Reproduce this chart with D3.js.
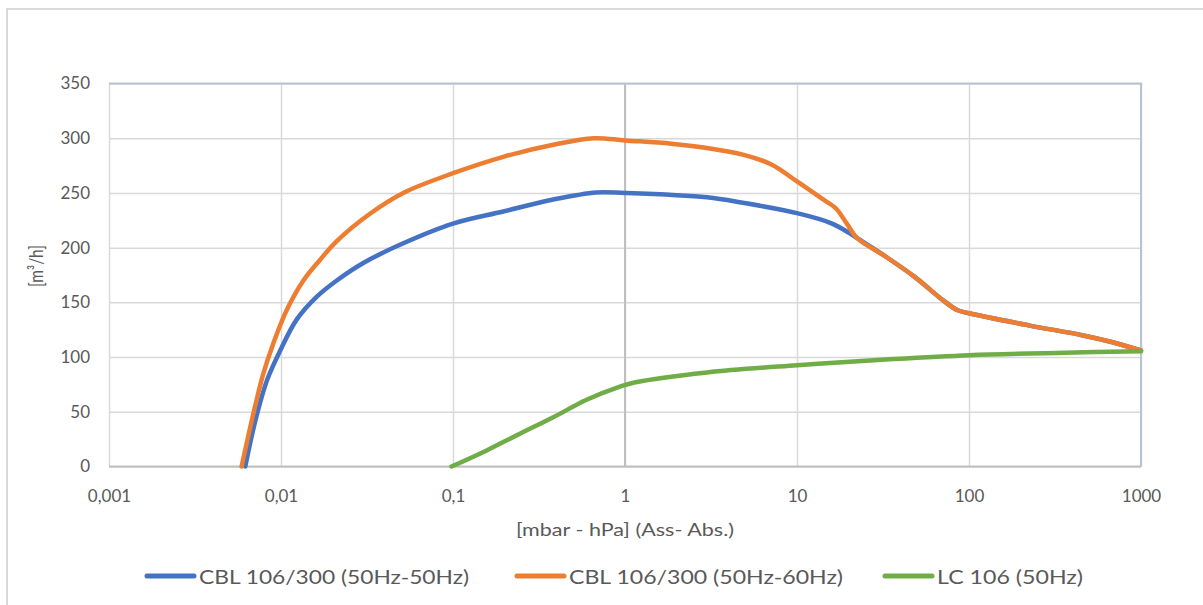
<!doctype html>
<html>
<head>
<meta charset="utf-8">
<title>curve</title>
<script src="https://d3js.org/d3.v7.min.js"></script>
<style>
  body { margin: 0; background: #fff; }
  text { font-family: Lato, "Open Sans", sans-serif; fill: #595959; }
</style>
</head>
<body>
<script>

// tick values and labels
var xTicks = [0.001, 0.01, 0.1, 1, 10, 100, 1000];
var xTickLabels = ['0,001', '0,01', '0,1', '1', '10', '100', '1000'];
var yTicks = [0, 50, 100, 150, 200, 250, 300, 350];

var seriesNames = ['CBL 106/300 (50Hz-50Hz)', 'CBL 106/300 (50Hz-60Hz)', 'LC 106 (50Hz)'];
var seriesColors = ['#4472c4', '#ed7d31', '#70ad47'];

// CBL 106/300 50Hz-50Hz
var bluePressure = [0.0062, 0.0071, 0.0083, 0.0099, 0.0123, 0.0161, 0.0211, 0.0301, 0.0514, 0.1, 0.196, 0.383, 0.68, 1,
                    3.0, 4.84, 10, 16, 20.3, 22.4, 32.8, 48.1, 70.5, 85.3, 100, 222, 454, 666, 1000];
var blueFlow = [0, 42, 79, 106, 134, 155, 170, 186, 204, 222, 233, 244, 250.5, 250,
                246, 241, 231.5, 222, 213, 208.6, 191.8, 173.5, 152, 143, 140, 129, 120, 114, 106];

// CBL 106/300 50Hz-60Hz
var orangePressure = [0.0059, 0.0069, 0.0079, 0.009, 0.0108, 0.0135, 0.0169, 0.0211, 0.0329, 0.0514, 0.1, 0.196, 0.383, 0.66, 1,
                      1.86, 3.0, 4.84, 7.1, 10, 13.9, 16.8, 19.4, 22.4, 32.8, 48.1, 70.5, 85.3, 100, 222, 454, 666, 1000];
var orangeFlow = [0, 48, 85, 112, 143, 170, 189, 206, 231, 250, 268, 283, 294, 300, 298,
                  295, 291, 285, 276, 260.5, 245, 236, 222.4, 208.6, 191.8, 173.5, 152, 143, 140, 129, 120, 114, 106];

// LC 106 50Hz
var greenPressure = [0.098, 0.157, 0.245, 0.383, 0.598, 0.935, 1.15, 3.0, 10, 32.8, 100, 362, 1000];
var greenFlow = [0, 14.7, 30, 45, 61, 73, 77, 86, 92.5, 97.7, 101.7, 104, 105.4];

var series = [
  {p: bluePressure, q: blueFlow},
  {p: orangePressure, q: orangeFlow},
  {p: greenPressure, q: greenFlow}
];

var width = 1203, height = 605;
var plot = {left: 109, right: 1141, top: 83.5, bottom: 466.5};

var svg = d3.select('body').append('svg')
    .attr('width', width)
    .attr('height', height);

// outer chart frame
svg.append('rect')
    .attr('x', 7).attr('y', 9)
    .attr('width', 1230).attr('height', 640)
    .attr('fill', 'none')
    .attr('stroke', '#d9d9d9')
    .attr('stroke-width', 2);

var x = d3.scaleLog().domain([0.001, 1000]).range([plot.left, plot.right]);
var y = d3.scaleLinear().domain([0, 350]).range([plot.bottom, plot.top]);

// gridlines
svg.append('g')
    .attr('transform', 'translate(0,' + plot.bottom + ')')
    .call(d3.axisBottom(x).tickValues(xTicks).tickSize(-(plot.bottom - plot.top)).tickFormat(''))
    .call(function(g) {
      g.select('.domain').remove();
      g.selectAll('line').attr('stroke', '#d9d9d9').attr('stroke-width', 1.5);
    });

svg.append('g')
    .attr('transform', 'translate(' + plot.left + ',0)')
    .call(d3.axisLeft(y).tickValues(yTicks).tickSize(-(plot.right - plot.left)).tickFormat(''))
    .call(function(g) {
      g.select('.domain').remove();
      g.selectAll('line').attr('stroke', '#d9d9d9').attr('stroke-width', 1.5);
    });

// top and right edge
svg.append('path')
    .attr('d', 'M' + plot.left + ',' + y(350) + 'H' + x(1000) + 'V' + y(0))
    .attr('fill', 'none')
    .attr('stroke', '#b8c3d8')
    .attr('stroke-width', 2);

// value axis crosses at 1
svg.append('line')
    .attr('x1', x(1)).attr('x2', x(1))
    .attr('y1', y(350)).attr('y2', y(0))
    .attr('stroke', '#bfbfbf')
    .attr('stroke-width', 2);

// category axis line
svg.append('line')
    .attr('x1', plot.left).attr('x2', plot.right)
    .attr('y1', y(0)).attr('y2', y(0))
    .attr('stroke', '#bfbfbf')
    .attr('stroke-width', 2);

// tick labels
svg.append('g')
    .attr('transform', 'translate(0,' + plot.bottom + ')')
    .call(d3.axisBottom(x).tickValues(xTicks).tickSize(0).tickPadding(23)
      .tickFormat(function(d, i) { return xTickLabels[i]; }))
    .call(function(g) {
      g.select('.domain').remove();
      g.selectAll('text').style('font-size', '17px').attr('fill', '#595959').attr('font-family', null);
    });

svg.append('g')
    .attr('transform', 'translate(' + 90 + ',0)')
    .call(d3.axisLeft(y).tickValues(yTicks).tickSize(0).tickPadding(0))
    .call(function(g) {
      g.select('.domain').remove();
      g.selectAll('text').style('font-size', '17px').attr('fill', '#595959').attr('font-family', null);
    });

// axis titles
svg.append('text')
    .attr('x', 625).attr('y', 530)
    .attr('dy', '0.35em')
    .attr('text-anchor', 'middle')
    .attr('textLength', 218)
    .attr('lengthAdjust', 'spacingAndGlyphs')
    .style('font-size', '18px')
    .text('[mbar - hPa] (Ass- Abs.)');

svg.append('text')
    .attr('transform', 'translate(36,266) rotate(-90)')
    .attr('dy', '0.35em')
    .attr('text-anchor', 'middle')
    .attr('textLength', 42)
    .attr('lengthAdjust', 'spacingAndGlyphs')
    .style('font-size', '19px')
    .text('[m³/h]');

// curves
var line = d3.line()
    .x(function(d) { return x(d[0]); })
    .y(function(d) { return y(d[1]); })
    .curve(d3.curveCatmullRom.alpha(0.5));

series.forEach(function(s, i) {
  var pts = s.p.map(function(v, j) { return [v, s.q[j]]; });
  svg.append('path')
      .datum(pts)
      .attr('d', line)
      .attr('fill', 'none')
      .attr('stroke', seriesColors[i])
      .attr('stroke-width', 4.5)
      .attr('stroke-linejoin', 'round')
      .attr('stroke-linecap', 'round');
});

// legend
var legendX = [145, 515, 883];
var legendTextLen = [270, 274, 146];
var legend = svg.append('g');
seriesNames.forEach(function(name, i) {
  legend.append('line')
      .attr('x1', legendX[i] + 2).attr('x2', legendX[i] + 49)
      .attr('y1', 576).attr('y2', 576)
      .attr('stroke', seriesColors[i])
      .attr('stroke-width', 5)
      .attr('stroke-linecap', 'round');
  legend.append('text')
      .attr('x', legendX[i] + 54).attr('y', 577)
      .attr('dy', '0.35em')
      .attr('textLength', legendTextLen[i])
      .attr('lengthAdjust', 'spacingAndGlyphs')
      .style('font-size', '19px')
      .text(name);
});

</script>
</body>
</html>
